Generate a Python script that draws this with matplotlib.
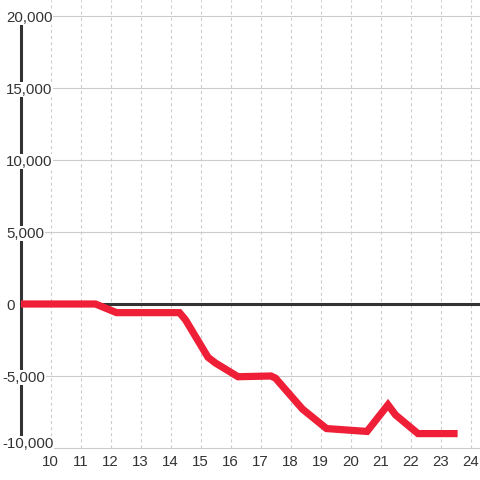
import matplotlib
matplotlib.use("Agg")
import matplotlib.pyplot as plt
from matplotlib.transforms import blended_transform_factory, Affine2D

# ---- data ----
hours = [9, 11.5, 12.2, 14.3, 14.5, 15.25, 15.5, 16.25, 17.35, 17.5, 18.4,
         19.2, 20.55, 21.25, 21.5, 22.25, 23.45]
values = [0, 0, -600, -600, -1100, -3700, -4100, -5050, -5000, -5150, -7300,
          -8650, -8850, -7000, -7700, -9000, -9000]
x_ticks = list(range(10, 25))
y_ticks = [-10000, -5000, 0, 5000, 10000, 15000, 20000]
y_tick_labels = ["-10,000", "-5,000", "0", "5,000", "10,000", "15,000", "20,000"]

plt.rcParams['font.family'] = ['Liberation Sans', 'DejaVu Sans']
plt.rcParams['lines.scale_dashes'] = False

W = H = 480
fig = plt.figure(figsize=(4.8, 4.8), dpi=100)
fig.patch.set_facecolor('white')

# axes spans px x 20.5..480, py 0..448 (from top)
ax = fig.add_axes([20.5 / W, (H - 448) / H, (W - 20.5) / W, 448 / H])
ax.set_xlim(9, 9 + (W - 20.5) / 30.0)
ax.set_ylim(-10000, 20000 + 16 / 14.4 * 1000)
ax.axis('off')

grid_c = '#cccccc'
text_c = '#333333'
fs = 10.8

# horizontal gridlines
for v in y_ticks:
    ax.axhline(v, color=grid_c, lw=0.8, zorder=1, clip_on=False)
# vertical dashed gridlines
for v in x_ticks:
    ax.axvline(v, color=grid_c, lw=0.8, ls=(0, (2.2, 2.2)), zorder=1, clip_on=False)

# zero line
ax.axhline(0, color='#333333', lw=2.2, zorder=2)
# left axis line
ax.plot([9, 9], [-10000, 20000], color='#333333', lw=2.2, zorder=2,
        solid_capstyle='butt', clip_on=False)

# series line
ax.plot(hours, values, color='#ee1f36', lw=5.2, zorder=3,
        solid_capstyle='projecting', solid_joinstyle='miter')

# y tick labels (left aligned in figure pixels)
px = Affine2D().scale(1.0 / W, 1.0) + fig.transFigure
ytrans = blended_transform_factory(fig.transFigure, ax.transData)
for v, lab in zip(y_ticks, y_tick_labels):
    xpos = (2 if lab.startswith('-') else 6) / W
    yv = v + (6 / 14.4 * 1000 if v == -10000 else 0)
    fig.text(xpos, 0, lab, transform=ytrans, ha='left', va='center_baseline',
             fontsize=fs, color=text_c, zorder=5,
             bbox=dict(facecolor='white', edgecolor='none', pad=0.5))
    # position via transform: place at data y
    t = fig.texts[-1]
    t.set_position((xpos, yv))

# x tick labels
xtrans = blended_transform_factory(ax.transData, fig.transFigure)
for v in x_ticks:
    fig.text(v, (H - 461) / H, str(v), transform=xtrans, ha='center',
             va='center_baseline', fontsize=fs, color=text_c)

fig.savefig('out.png', dpi=100, facecolor='white')
